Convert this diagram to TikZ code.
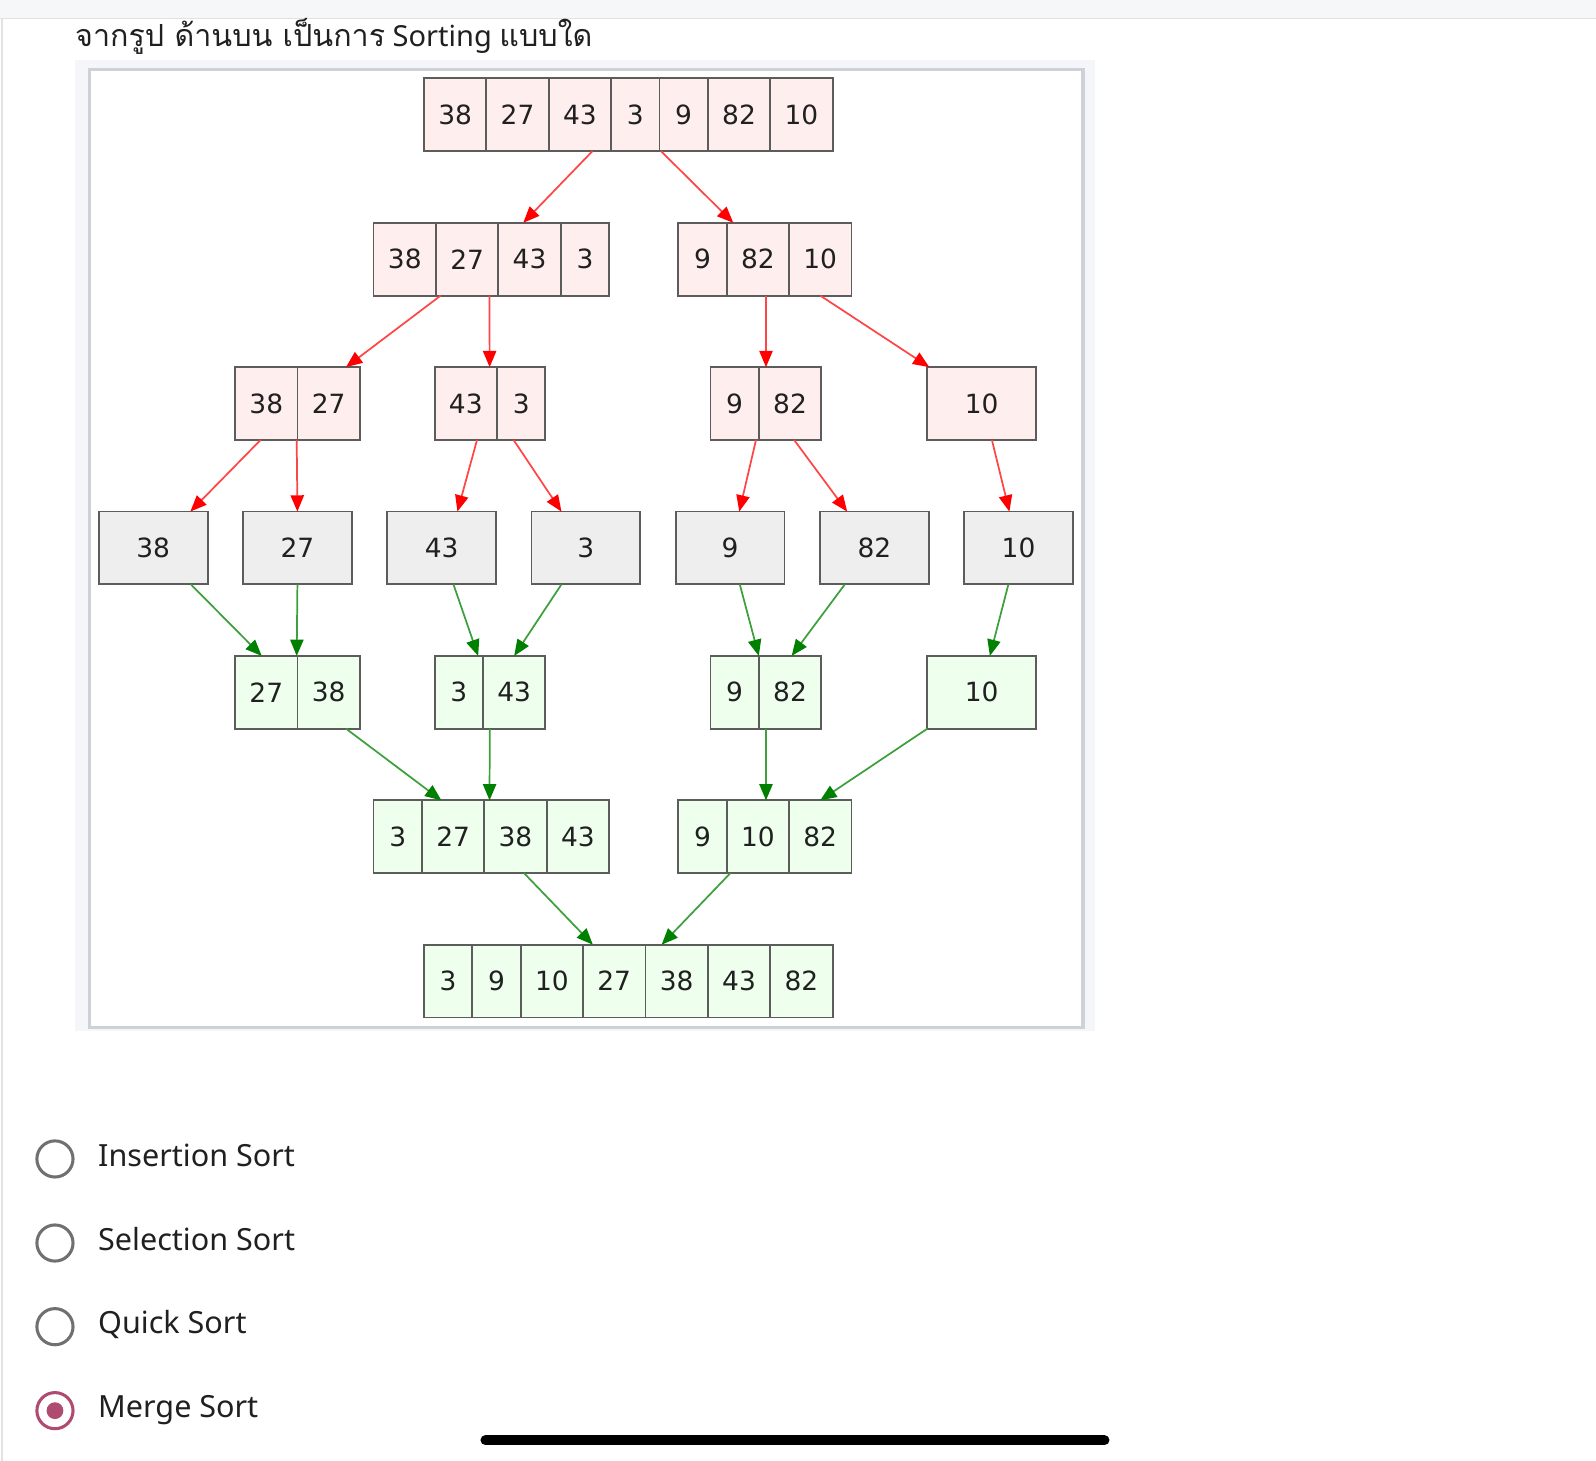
\documentclass[tikz,border=0pt]{standalone}
\usepackage{fontspec}
\setmainfont{Noto Sans}
\newfontfamily\thaifont[Script=Thai, Scale=1.05]{Loma}
\newfontfamily\cellfont{DejaVu Sans}
\usetikzlibrary{positioning,arrows.meta}
\definecolor{SplitFill}{RGB}{255,238,238}
\definecolor{MergeFill}{RGB}{238,255,238}
\definecolor{LeafFill}{RGB}{238,238,238}
\definecolor{CellLine}{RGB}{92,92,92}
\definecolor{SplitLine}{RGB}{255,70,70}
\definecolor{SplitHead}{RGB}{255,0,0}
\definecolor{MergeLine}{RGB}{60,160,60}
\definecolor{MergeHead}{RGB}{0,128,0}
\definecolor{RadioGray}{RGB}{112,112,112}
\definecolor{RadioRose}{RGB}{176,74,112}
\definecolor{InkDark}{RGB}{32,32,32}
\definecolor{PanelShade}{RGB}{245,246,249}
\definecolor{PanelLine}{RGB}{206,209,216}
\definecolor{TopBar}{RGB}{246,247,249}
\definecolor{PageLine}{RGB}{226,226,228}
\colorlet{ColourSplit}{SplitFill}
\colorlet{ColourMerge}{MergeFill}
\colorlet{ColourLeaf}{LeafFill}
\tikzset{
  cell/.style={
    draw=CellLine, line width=1.8pt,
    minimum height=71.5pt, inner sep=0pt, outer sep=0pt,
    text=InkDark, font=\cellfont\fontsize{26}{26}\selectfont
  },
  one/.style={cell, minimum width=47.5pt},
  two/.style={cell, minimum width=61.3pt},
  wide/.style={cell, minimum width=107pt},
  split/.style={fill=ColourSplit},
  merged/.style={fill=ColourMerge},
  single/.style={fill=ColourLeaf},
}
\tikzset{
  split edge/.style={
    draw=SplitLine, line width=1.7pt,
    -{Triangle[length=16pt,width=13pt,color=SplitHead]}
  },
  merge edge/.style={
    draw=MergeLine, line width=1.7pt,
    -{Triangle[length=16pt,width=13pt,color=MergeHead]}
  },
  radio/.style={
    circle, draw=#1, line width=3pt,
    minimum size=35.5pt, inner sep=0pt
  },
  answer/.style={
    anchor=base west, inner sep=0pt, text=InkDark,
    font=\fontsize{30}{36}\selectfont
  },
}

\begin{document}
\begin{tikzpicture}[x=1pt, y=-1pt]
    \useasboundingbox (0,0) rectangle (1568,1435);
    \fill[white] (0,0) rectangle (1568,1435);
    % page chrome
    \fill[TopBar] (0,0) rectangle (1568,17.7);
    \draw[PageLine, line width=1pt] (0,17.7) -- (1568,17.7);
    \draw[PageLine, line width=1.6pt] (2,17.7) -- (2,1435);
    \node[anchor=base west, inner sep=0pt, text=InkDark,
      font=\fontsize{28.5}{34}\selectfont] (title) at (73.7,45.9)
      {{\thaifont จากรูป ด้านบน เป็นการ} Sorting {\thaifont แบบใด}};
    \fill[PanelShade] (73.5,59) rectangle (1076,1013);
    \draw[PanelLine, line width=3pt, fill=white] (88,68) rectangle (1064,1009);

    % split
    \node[two, split, anchor=north west] (n11) at (416.5,77) {38};
    \node[two, split, right=0pt of n11] (n12) {27};
    \node[two, split, right=0pt of n12] (n13) {43};
    \node[one, split, right=0pt of n13] (n14) {3};
    \node[one, split, right=0pt of n14] (n15) {9};
    \node[two, split, right=0pt of n15] (n16) {82};
    \node[two, split, right=0pt of n16] (n17) {10};

    \node[two, split, anchor=north west] (n21) at (367,218.9) {38};
    \node[two, split, right=0pt of n21] (n22) {27};
    \node[two, split, right=0pt of n22] (n23) {43};
    \node[one, split, right=0pt of n23] (n24) {3};
    \node[one, split, anchor=north west] (n25) at (666.4,218.9) {9};
    \node[two, split, right=0pt of n25] (n26) {82};
    \node[two, split, right=0pt of n26] (n27) {10};

    \node[two, split, anchor=north west] (n31) at (231,360.7) {38};
    \node[two, split, right=0pt of n31] (n32) {27};
    \node[two, split, anchor=north west] (n33) at (427,360.7) {43};
    \node[one, split, right=0pt of n33] (n34) {3};
    \node[one, split, anchor=north west] (n35) at (698,360.7) {9};
    \node[two, split, right=0pt of n35] (n36) {82};
    \node[wide, split, anchor=north west] (n37) at (911,360.7) {10};

    % leaves
    \node[wide, single, anchor=north west] (n41) at (97,502.6) {38};
    \node[wide, single, right=34.7pt of n41] (n42) {27};
    \node[wide, single, right=34.7pt of n42] (n43) {43};
    \node[wide, single, right=34.7pt of n43] (n44) {3};
    \node[wide, single, right=34.7pt of n44] (n45) {9};
    \node[wide, single, right=34.7pt of n45] (n46) {82};
    \node[wide, single, right=34.7pt of n46] (n47) {10};

    % merge
    \node[two, merged, anchor=north west] (n51) at (231,644.4) {27};
    \node[two, merged, right=0pt of n51] (n52) {38};
    \node[one, merged, anchor=north west] (n53) at (427,644.4) {3};
    \node[two, merged, right=0pt of n53] (n54) {43};
    \node[one, merged, anchor=north west] (n55) at (698,644.4) {9};
    \node[two, merged, right=0pt of n55] (n56) {82};
    \node[wide, merged, anchor=north west] (n57) at (911,644.4) {10};

    \node[one, merged, anchor=north west] (n61) at (367,786.3) {3};
    \node[two, merged, right=0pt of n61] (n62) {27};
    \node[two, merged, right=0pt of n62] (n63) {38};
    \node[two, merged, right=0pt of n63] (n64) {43};
    \node[one, merged, anchor=north west] (n65) at (666.4,786.3) {9};
    \node[two, merged, right=0pt of n65] (n66) {10};
    \node[two, merged, right=0pt of n66] (n67) {82};

    \node[one, merged, anchor=north west] (n71) at (416.5,928.1) {3};
    \node[one, merged, right=0pt of n71] (n72) {9};
    \node[two, merged, right=0pt of n72] (n73) {10};
    \node[two, merged, right=0pt of n73] (n74) {27};
    \node[two, merged, right=0pt of n74] (n75) {38};
    \node[two, merged, right=0pt of n75] (n76) {43};
    \node[two, merged, right=0pt of n76] (n77) {82};

    % split edges
    \draw[split edge] ([xshift=12.3pt]n13.south) -- ([xshift=-6.2pt]n23.north);
    \draw[split edge] ([xshift=1.5pt]n15.south west) -- ([xshift=6.5pt]n26.north west);
    \draw[split edge] ([xshift=-26pt]n22.south) -- ([xshift=17pt]n32.north);
    \draw[split edge] ([xshift=22pt]n22.south) -- ([xshift=23.4pt]n33.north);
    \draw[split edge] ([xshift=8pt]n26.south) -- ([xshift=-23.6pt]n36.north);
    \draw[split edge] (n27.south) -- ([xshift=2pt]n37.north west);
    \draw[split edge] ([xshift=-5.6pt]n31.south) -- ([xshift=36.5pt]n41.north);
    \draw[split edge] ([xshift=-0.8pt]n32.south west) -- (n42.north);
    \draw[split edge] ([xshift=11pt]n33.south) -- ([xshift=15.5pt]n43.north);
    \draw[split edge] ([xshift=-7.5pt]n34.south) -- ([xshift=-24pt]n44.north);
    \draw[split edge] ([xshift=21pt]n35.south) -- ([xshift=9pt]n45.north);
    \draw[split edge] ([xshift=4pt]n36.south) -- ([xshift=-26.7pt]n46.north);
    \draw[split edge] ([xshift=10pt]n37.south) -- ([xshift=-9pt]n47.north);

    % merge edges
    \draw[merge edge] ([xshift=37pt]n41.south) -- ([xshift=-4.5pt]n51.north);
    \draw[merge edge] (n42.south) -- ([xshift=-0.8pt]n52.north west);
    \draw[merge edge] ([xshift=11.6pt]n43.south) -- ([xshift=19pt]n53.north);
    \draw[merge edge] ([xshift=-24pt]n44.south) -- (n54.north);
    \draw[merge edge] ([xshift=9.5pt]n45.south) -- (n56.north west);
    \draw[merge edge] ([xshift=-29pt]n46.south) -- ([xshift=1.6pt]n56.north);
    \draw[merge edge] ([xshift=-10pt]n47.south) -- ([xshift=8pt]n57.north);
    \draw[merge edge] ([xshift=17pt]n52.south) -- ([xshift=-11.5pt]n62.north);
    \draw[merge edge] ([xshift=-24pt]n54.south) -- ([xshift=-25.5pt]n63.north);
    \draw[merge edge] ([xshift=-23.6pt]n56.south) -- ([xshift=8pt]n66.north);
    \draw[merge edge] (n57.south west) -- (n67.north);
    \draw[merge edge] ([xshift=8.4pt]n63.south) -- ([xshift=-21pt]n74.north);
    \draw[merge edge] ([xshift=-27pt]n66.south) -- ([xshift=-14.7pt]n75.north);

    % answers
    \node[radio=RadioGray] (o1) at (54,1138.6) {};
    \node[radio=RadioGray] (o2) at (54,1221.2) {};
    \node[radio=RadioGray] (o3) at (54,1303.4) {};
    \node[radio=RadioRose] (o4) at (54,1385.9) {};
    \node[circle, fill=RadioRose, minimum size=16.5pt, inner sep=0pt] (o4dot) at (o4) {};
    \node[answer] (a1) at (96.3,1146.2) {Insertion Sort};
    \node[answer] (a2) at (96.3,1228.7) {Selection Sort};
    \node[answer] (a3) at (96.3,1310.5) {Quick Sort};
    \node[answer] (a4) at (96.3,1393.1) {Merge Sort};

    \draw[black, line width=10pt, line cap=round] (477,1415) -- (1085,1415);
\end{tikzpicture}
\end{document}
